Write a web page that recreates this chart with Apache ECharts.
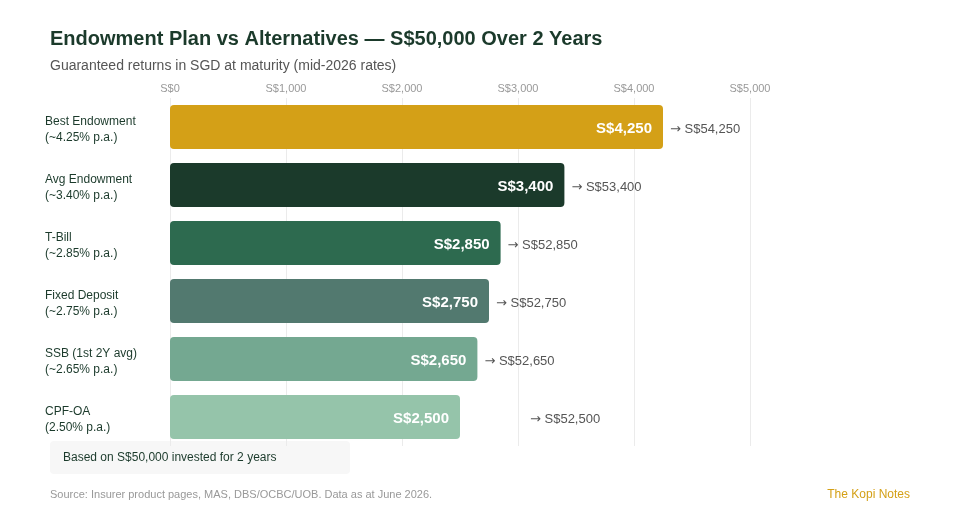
<!DOCTYPE html>
<html>
<head>
<meta charset="utf-8">
<script src="https://cdn.jsdelivr.net/npm/echarts@6/dist/echarts.min.js"></script>
<style>
  html, body { margin: 0; padding: 0; background: #fff; }
  #chart { width: 960px; height: 520px; }
</style>
</head>
<body>
<div id="chart"></div>
<script>
// categories and values
var categories = [
  'Best Endowment\n(~4.25% p.a.)',
  'Avg Endowment\n(~3.40% p.a.)',
  'T-Bill\n(~2.85% p.a.)',
  'Fixed Deposit\n(~2.75% p.a.)',
  'SSB (1st 2Y avg)\n(~2.65% p.a.)',
  'CPF-OA\n(2.50% p.a.)'
]
var returns = [4250, 3400, 2850, 2750, 2650, 2500]
var principal = 50000
var xTicks = [0, 1000, 2000, 3000, 4000, 5000]
var barColors = ['#D4A017', '#1B3A2B', '#2D6A4F', '#52796F', '#74A891', '#95C4AA']

var font = 'Liberation Sans, Arial, Helvetica, sans-serif'

function money(v) {
  return 'S$' + v.toLocaleString('en-US')
}

var chart = echarts.init(document.getElementById('chart'))
chart.setOption({
  animation: false,
  textStyle: { fontFamily: font },
  title: [{
    text: 'Endowment Plan vs Alternatives — S$50,000 Over 2 Years',
    left: 45, top: 24,
    textStyle: { fontSize: 20, fontWeight: 'bold', color: '#1B3A2B', fontFamily: font }
  }, {
    text: 'Guaranteed returns in SGD at maturity (mid-2026 rates)',
    left: 45, top: 54,
    textStyle: { fontSize: 14, fontWeight: 'normal', color: '#555', fontFamily: font }
  }],
  grid: { left: 170, right: 210, top: 98, bottom: 74 },
  xAxis: {
    type: 'value',
    position: 'top',
    min: 0,
    max: xTicks[xTicks.length - 1],
    interval: 1000,
    axisLine: { show: false },
    axisTick: { show: false },
    axisLabel: { color: '#999', fontSize: 11, margin: 4, formatter: function (v) { return money(v) } },
    splitLine: { lineStyle: { color: '#ebebeb', width: 1 } }
  },
  yAxis: {
    type: 'category',
    inverse: true,
    data: categories,
    axisLine: { show: false },
    axisTick: { show: false },
    axisLabel: {
      color: '#1B3A2B', fontSize: 12, align: 'left', margin: 125,
      formatter: function (v) {
        // small spacer line on top nudges the two text lines down
        return '{s| }\n' + v.split('\n').map(function (t) { return '{t|' + t + '}' }).join('\n')
      },
      rich: {
        s: { fontSize: 1, lineHeight: 5 },
        t: { fontSize: 12, lineHeight: 16, color: '#1B3A2B', fontFamily: font }
      }
    }
  },
  series: [{
    type: 'bar',
    barWidth: 44,
    data: returns.map(function (v, i) {
      return { value: v, itemStyle: { color: barColors[i], borderRadius: 4 } }
    }),
    label: {
      show: true,
      position: 'insideRight',
      distance: 11,
      offset: [0, 2],
      color: '#fff',
      fontSize: 15,
      fontWeight: 'bold',
      formatter: function (p) { return money(p.value) }
    }
  }, {
    // transparent overlay to carry the maturity value label
    type: 'bar',
    barWidth: 44,
    barGap: '-100%',
    silent: true,
    itemStyle: { color: 'transparent' },
    data: returns.map(function (v, i) {
      return { value: v, label: { distance: i === returns.length - 1 ? 70 : 7 } }
    }),
    label: {
      show: true,
      position: 'right',
      color: '#555',
      fontSize: 13,
      padding: [5, 0, 0, 0],
      formatter: function (p) { return '{a|→} ' + money(principal + p.value) },
      rich: {
        a: { fontFamily: 'DejaVu Sans', fontSize: 13, color: '#555' }
      }
    }
  }],
  graphic: [{
    type: 'rect',
    shape: { x: 50, y: 441, width: 300, height: 33, r: 4 },
    style: { fill: '#f7f7f7' }
  }, {
    type: 'text',
    x: 63, y: 458,
    style: { text: 'Based on S$50,000 invested for 2 years', fill: '#1B3A2B', font: '12px ' + font, textVerticalAlign: 'middle' }
  }, {
    type: 'text',
    x: 50, y: 495,
    style: { text: 'Source: Insurer product pages, MAS, DBS/OCBC/UOB. Data as at June 2026.', fill: '#999', font: '11px ' + font, textVerticalAlign: 'middle' }
  }, {
    type: 'text',
    x: 910, y: 495,
    style: { text: 'The Kopi Notes', fill: '#D4A017', font: '12px ' + font, textAlign: 'right', textVerticalAlign: 'middle' }
  }]
})
</script>
</body>
</html>
